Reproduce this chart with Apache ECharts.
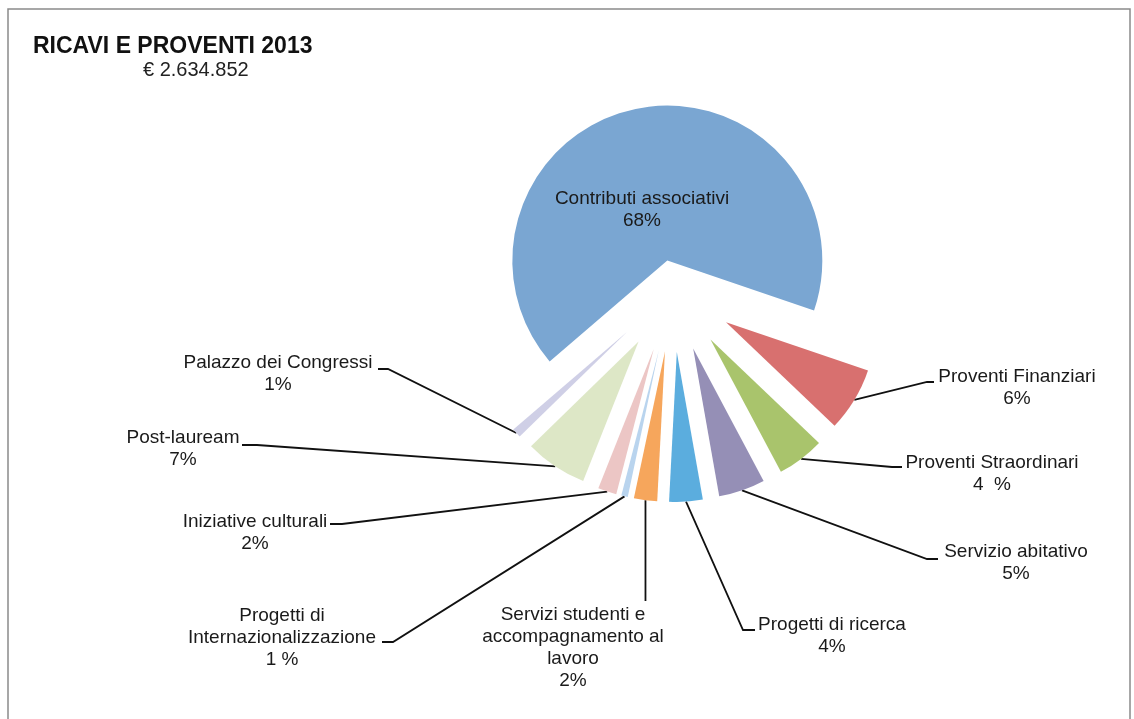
<!DOCTYPE html>
<html>
<head>
<meta charset="utf-8">
<script src="https://cdn.jsdelivr.net/npm/echarts@6/dist/echarts.min.js"></script>
<style>
html,body{margin:0;padding:0;background:#fff;}
#c{width:1134px;height:719px;}
</style>
</head>
<body>
<div id="c"></div>
<script>
const categories = [
  'Contributi associativi',
  'Proventi Finanziari',
  'Proventi Straordinari',
  'Servizio abitativo',
  'Progetti di ricerca',
  'Servizi studenti e\naccompagnamento al\nlavoro',
  'Progetti di\nInternazionalizzazione',
  'Iniziative culturali',
  'Post-lauream',
  'Palazzo dei Congressi'
];
// slice sizes as read from the drawn wedges (percent of total)
const values = [66.5, 6.9, 5.1, 5.0, 3.6, 2.5, 0.7, 2.0, 6.7, 1.0];
// percentage labels as printed on the chart
const pctLabels = ['68%', '6%', '4  %', '5%', '4%', '2%', '1 %', '2%', '7%', '1%'];
const colors = ['#7aa6d2', '#d8706f', '#a9c46c', '#958fb6', '#5badde', '#f6a65c', '#b9d4ee', '#ecc6c5', '#dde7c6', '#cfcfe6'];

// label placement (centre x, top y) and guide-line elbow points
const labelPos = [
  {x: 642, y: 188},
  {x: 1017, y: 366, line: [[927, 382], [934, 382]]},
  {x: 992, y: 452, line: [[892, 467], [902, 467]]},
  {x: 1016, y: 541, line: [[927, 559], [938, 559]]},
  {x: 832, y: 614, line: [[743, 630], [755, 630]]},
  {x: 573, y: 604, vline: 601},
  {x: 282, y: 605, line: [[393, 642], [382, 642]]},
  {x: 255, y: 511, line: [[342, 524], [330, 524]]},
  {x: 183, y: 427, line: [[257, 445], [242, 445]]},
  {x: 278, y: 352, line: [[388, 369], [378, 369]]}
];

const chart = echarts.init(document.getElementById('c'));
const fontFamily = '"Liberation Sans", Arial, sans-serif';
const CENTER = [673, 290];
const START = 220.6;
const CLEAR = 'rgba(0,0,0,0)';

function wedgeData(showIdx) {
  return categories.map((n, i) => ({
    name: n,
    value: values[i],
    selected: true,
    itemStyle: {color: showIdx(i) ? colors[i] : CLEAR}
  }));
}

const base = {
  type: 'pie',
  center: CENTER,
  startAngle: START,
  selectedMode: 'multiple',
  emphasis: {disabled: true},
  itemStyle: {borderWidth: 0},
  label: {show: false},
  labelLine: {show: false},
  silent: true
};

chart.setOption({
  animation: false,
  backgroundColor: '#ffffff',
  title: [
    {text: 'RICAVI E PROVENTI 2013', left: 28, top: 30,
     textStyle: {fontFamily, fontSize: 23, fontWeight: 'bold', color: '#111'}},
    {text: '€ 2.634.852', left: 138, top: 55,
     textStyle: {fontFamily, fontSize: 20, fontWeight: 'normal', color: '#222'}}
  ],
  graphic: [{
    type: 'rect', shape: {x: 8, y: 9, width: 1122, height: 730},
    style: {fill: 'none', stroke: '#8a8a8a', lineWidth: 1.5}, silent: true, z: -10
  }],
  series: [
    Object.assign({}, base, {
      radius: 155, selectedOffset: 30,
      data: wedgeData(i => i === 0)
    }),
    Object.assign({}, base, {
      radius: 150, selectedOffset: 62,
      data: wedgeData(i => i !== 0)
    }),
    {
      type: 'pie',
      center: CENTER,
      startAngle: START,
      radius: 212,
      silent: true,
      avoidLabelOverlap: false,
      emphasis: {disabled: true},
      itemStyle: {color: CLEAR, borderWidth: 0},
      label: {
        show: true,
        formatter: p => p.name + '\n' + pctLabels[p.dataIndex],
        fontFamily, fontSize: 19, lineHeight: 22, color: '#1a1a1a', align: 'center'
      },
      labelLine: {show: true, length: 20, length2: 10, lineStyle: {color: '#111', width: 1.8}},
      labelLayout: function (p) {
        const L = labelPos[p.dataIndex];
        const res = {x: L.x, y: L.y, align: 'center', verticalAlign: 'top'};
        if (p.labelLinePoints) {
          const p0 = p.labelLinePoints[0];
          if (L.line) res.labelLinePoints = [p0].concat(L.line);
          else if (L.vline) res.labelLinePoints = [p0, [p0[0], L.vline]];
        }
        return res;
      },
      data: categories.map((n, i) => ({
        name: n,
        value: values[i],
        label: i === 0 ? {position: 'inside'} : {},
        labelLine: i === 0 ? {show: false} : {}
      }))
    }
  ]
});
</script>
</body>
</html>
